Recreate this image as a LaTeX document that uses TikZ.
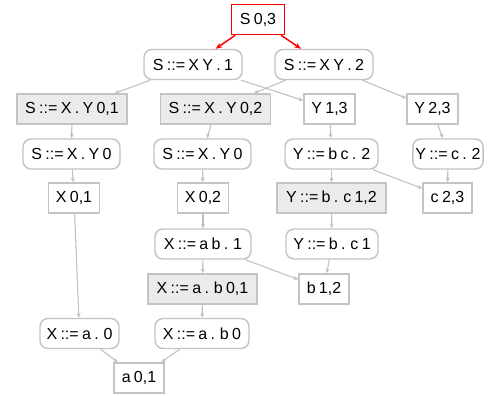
\documentclass[tikz,border=0pt]{standalone}
\usepackage{fontspec}
\setmainfont[WordSpace=0.75]{Liberation Sans}
\usetikzlibrary{arrows.meta}
\definecolor{edgegray}{RGB}{192,192,192}
\definecolor{boxgray}{RGB}{196,196,196}
\definecolor{fillgray}{RGB}{235,235,235}
\tikzset{
  base/.style={draw=boxgray, line width=1.1pt, minimum height=22.5pt, inner sep=2pt,
    font=\fontsize{12}{14}\selectfont, text=black},
  item/.style={base, rectangle, rounded corners=6pt, fill=white},
  sym/.style={base, rectangle, fill=white},
  part/.style={base, rectangle, fill=fillgray},
  root/.style={base, rectangle, draw=red, fill=white},
  link/.style={draw=edgegray, line width=0.8pt, -{Stealth[length=3.5pt,width=3pt]}},
  rootlink/.style={draw=red, line width=1.1pt, -{Stealth[length=5pt,width=4pt]}},
}
\begin{document}
\begin{tikzpicture}[x=0.75pt,y=-0.75pt]
\useasboundingbox (0,0) rectangle (497,396);

% root symbol and its two completed items
\node[root, minimum width=39.75pt] (s03) at (258,19.5) {S 0,3};
\node[item, minimum width=73.5pt] (sxy1) at (193,64.5) {S ::= X Y . 1};
\node[item, minimum width=73.5pt] (sxy2) at (324,64.5) {S ::= X Y . 2};

% second row
\node[part, minimum width=82.5pt] (sx01) at (72,109) {S ::= X . Y 0,1};
\node[part, minimum width=82.5pt] (sx02) at (215.5,109) {S ::= X . Y 0,2};
\node[sym, minimum width=38.25pt] (y13) at (329.5,109) {Y 1,3};
\node[sym, minimum width=38.25pt] (y23) at (432.5,109) {Y 2,3};

% third row
\node[item, minimum width=72.75pt] (sxa) at (71.5,154) {S ::= X . Y 0};
\node[item, minimum width=72.75pt] (sxb) at (202.5,154) {S ::= X . Y 0};
\node[item, minimum width=69.75pt] (ybc2) at (331.5,154) {Y ::= b c . 2};
\node[item, minimum width=52.5pt] (yc2) at (448,154) {Y ::= c . 2};

% fourth row
\node[sym, minimum width=38pt] (x01) at (74,198) {X 0,1};
\node[sym, minimum width=38pt] (x02) at (203,198) {X 0,2};
\node[part, minimum width=81.75pt] (yb12) at (331.5,198) {Y ::= b . c 1,2};
\node[sym, minimum width=36.75pt] (c23) at (447.5,198) {c 2,3};

% fifth row
\node[item, minimum width=72pt] (xab1) at (203,244) {X ::= a b . 1};
\node[item, minimum width=69pt] (yb1) at (332,244) {Y ::= b . c 1};

% sixth row
\node[part, minimum width=81.75pt] (xa01) at (202.5,289) {X ::= a . b 0,1};
\node[sym, minimum width=37.5pt] (b12) at (324,289) {b 1,2};

% seventh row
\node[item, minimum width=59.25pt] (xa0) at (79.5,333.5) {X ::= a . 0};
\node[item, minimum width=70.5pt] (xab0) at (202,333.5) {X ::= a . b 0};

% terminal
\node[sym, minimum width=37.5pt] (a01) at (139,378) {a 0,1};

% connectors
\draw[rootlink] (s03) -- (sxy1);
\draw[rootlink] (s03) -- (sxy2);
\draw[link] (sxy1) -- (sx01);
\draw[link] (sxy1) -- (y13);
\draw[link] (sxy2) -- (sx02);
\draw[link] (sxy2) -- (y23);
\draw[link] (sx01) -- (sxa);
\draw[link] (sx02) -- (sxb);
\draw[link] (y13) -- (ybc2);
\draw[link] (y23) -- (yc2);
\draw[link] (sxa) -- (x01);
\draw[link] (sxb) -- (x02);
\draw[link] (ybc2) -- (yb12);
\draw[link] (ybc2) -- (c23);
\draw[link] (yc2) -- (c23);
\draw[link] (x01) -- (xa0);
\draw[link] (x02) -- (xab1);
\draw[link] (yb12) -- (yb1);
\draw[link] (xab1) -- (xa01);
\draw[link] (xab1) -- (b12);
\draw[link] (yb1) -- (b12);
\draw[link] (xa01) -- (xab0);
\draw[link] (xa0) -- (a01);
\draw[link] (xab0) -- (a01);
\end{tikzpicture}
\end{document}
